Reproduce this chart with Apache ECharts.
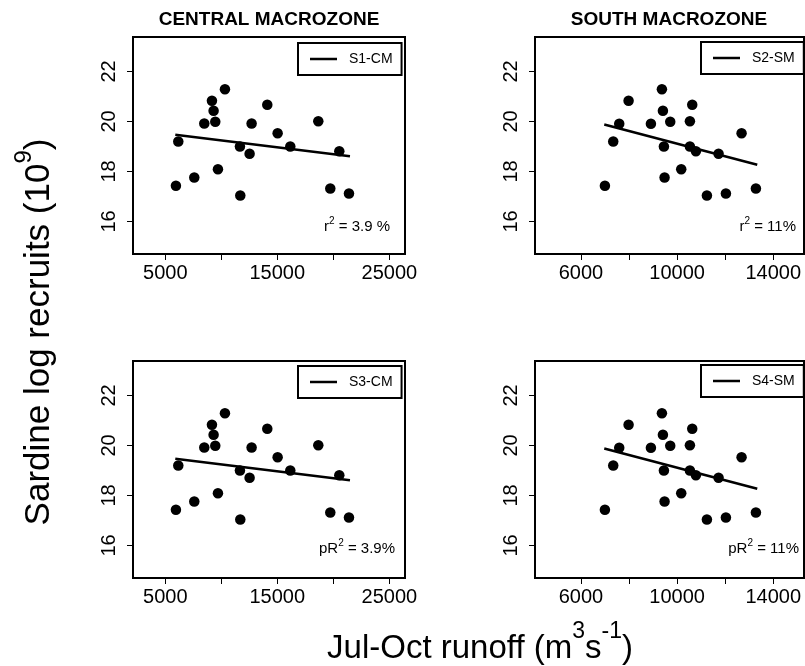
<!DOCTYPE html>
<html>
<head>
<meta charset="utf-8">
<script src="https://cdn.jsdelivr.net/npm/echarts@6/dist/echarts.min.js"></script>
<style>
  html, body { margin: 0; padding: 0; background: #fff; }
  #chart { width: 805px; height: 666px; }
</style>
</head>
<body>
<div id="chart"></div>
<script>
// ---- Data ----
var runoffCM = [5952, 6161, 7589, 8482, 9166, 9315, 9464, 9702, 10327, 11666, 11696, 12529, 12708, 14107, 15030, 16160, 18660, 19731, 20535, 21398];
var recruitsCM = [17.43, 19.2, 17.76, 19.92, 20.83, 20.43, 19.99, 18.09, 21.29, 19.0, 17.04, 18.71, 19.92, 20.67, 19.53, 19.0, 20.01, 17.32, 18.81, 17.12];
var runoffSM = [6998, 7345, 7594, 7983, 8912, 9369, 9411, 9452, 9480, 9716, 10173, 10534, 10534, 10631, 10783, 11241, 11726, 12031, 12683, 13279];
var recruitsSM = [17.43, 19.2, 19.91, 20.83, 19.91, 21.29, 20.43, 19.0, 17.76, 19.99, 18.09, 20.01, 19.0, 20.67, 18.81, 17.04, 18.71, 17.12, 19.53, 17.32];
var fitCMx = [5893, 21488], fitCMy = [19.47, 18.61];
var fitSMx = [6971, 13335], fitSMy = [19.88, 18.27];
var seriesNames = ['S1-CM', 'S2-SM', 'S3-CM', 'S4-SM'];
var panelTitles = ['CENTRAL MACROZONE', 'SOUTH MACROZONE'];
var statLabels = [['r', '2', ' = 3.9 %'], ['r', '2', ' = 11%'], ['pR', '2', ' = 3.9%'], ['pR', '2', ' = 11%']];
var xTicksCM = [5000, 10000, 15000, 20000, 25000], xLabelsCM = [5000, 15000, 25000];
var xTicksSM = [6000, 8000, 10000, 12000, 14000], xLabelsSM = [6000, 10000, 14000];
var yTicks = [16, 18, 20, 22];

// ---- Layout ----
var FONT = "'Liberation Sans', Arial, Helvetica, sans-serif";
var grids = [
  {left: 133, top: 37, width: 272, height: 217},
  {left: 535, top: 37, width: 269, height: 217},
  {left: 133, top: 361, width: 272, height: 217},
  {left: 535, top: 361, width: 269, height: 217}
];
var xRangeCM = [2120, 26400], xRangeSM = [4090, 15280], yRange = [14.7, 23.38];
var legendPos = [[298, 43], [701, 42], [298, 366], [701, 365]];
var statPos = [[390, 227], [796, 227], [395, 549], [799, 549]];

function zip(a, b) { return a.map(function (v, i) { return [v, b[i]]; }); }

var option = {
  animation: false,
  backgroundColor: '#fff',
  textStyle: {fontFamily: FONT, color: '#000'},
  grid: grids.map(function (g) {
    return Object.assign({show: true, borderColor: '#000', borderWidth: 2, backgroundColor: 'transparent'}, g);
  }),
  xAxis: [],
  yAxis: [],
  legend: [],
  series: [],
  graphic: []
};

for (var i = 0; i < 4; i++) {
  var isCM = (i % 2 === 0);
  var xr = isCM ? xRangeCM : xRangeSM;
  option.xAxis.push({
    type: 'value', gridIndex: i, min: xr[0], max: xr[1],
    axisLine: {show: false},
    splitLine: {show: false},
    axisTick: {show: true, length: 6, customValues: isCM ? xTicksCM : xTicksSM, lineStyle: {color: '#000', width: 1}},
    axisLabel: {customValues: isCM ? xLabelsCM : xLabelsSM, fontSize: 20, color: '#000', margin: 9, fontFamily: FONT,
      formatter: function (v) { return String(v); }}
  });
  option.yAxis.push({
    type: 'value', gridIndex: i, min: yRange[0], max: yRange[1],
    axisLine: {show: false},
    splitLine: {show: false},
    axisTick: {show: true, length: 6, customValues: yTicks, lineStyle: {color: '#000', width: 1}},
    axisLabel: {customValues: yTicks, fontSize: 20, color: '#000', margin: 14, rotate: 90, fontFamily: FONT,
      formatter: function (v) { return String(v); }}
  });
  option.series.push({
    type: 'scatter', name: 'pts' + i, xAxisIndex: i, yAxisIndex: i,
    data: isCM ? zip(runoffCM, recruitsCM) : zip(runoffSM, recruitsSM),
    symbol: 'circle', symbolSize: 10.5, itemStyle: {color: '#000', opacity: 1}
  });
  option.series.push({
    type: 'line', name: seriesNames[i], xAxisIndex: i, yAxisIndex: i,
    data: isCM ? zip(fitCMx, fitCMy) : zip(fitSMx, fitSMy),
    showSymbol: false, symbol: 'none', color: '#000',
    lineStyle: {color: '#000', width: 2.5}
  });
  option.legend.push({
    data: [seriesNames[i]], left: legendPos[i][0], top: legendPos[i][1],
    orient: 'horizontal', icon: 'rect', itemWidth: 27, itemHeight: 2.5,
    borderColor: '#000', borderWidth: 2, borderRadius: 0, padding: [9, 9, 9, 12],
    selectedMode: false,
    textStyle: {fontSize: 14, color: '#000', fontFamily: FONT, padding: [0, 0, 0, 7]}
  });
  var s = statLabels[i];
  option.graphic.push({
    type: 'text', x: statPos[i][0], y: statPos[i][1],
    style: {
      text: '{a|' + s[0] + '}{s|' + s[1] + '}{a|' + s[2] + '}',
      align: 'right', verticalAlign: 'middle',
      rich: {
        a: {fontSize: 15, fontFamily: FONT, fill: '#000', lineHeight: 15, verticalAlign: 'bottom'},
        s: {fontSize: 10, fontFamily: FONT, fill: '#000', lineHeight: 10, verticalAlign: 'bottom', padding: [0, 0, 8, 0]}
      }
    }
  });
}

// titles
option.graphic.push({type: 'text', x: 269, y: 20,
  style: {text: panelTitles[0], font: 'bold 19px ' + FONT, fill: '#000', align: 'center', verticalAlign: 'middle'}});
option.graphic.push({type: 'text', x: 669, y: 20,
  style: {text: panelTitles[1], font: 'bold 19px ' + FONT, fill: '#000', align: 'center', verticalAlign: 'middle'}});

// axis titles
option.graphic.push({type: 'text', x: 480, y: 649,
  style: {
    text: '{a|Jul-Oct runoff (m}{s|3}{a|s}{s|-1}{a|)}',
    align: 'center', verticalAlign: 'middle',
    rich: {
      a: {fontSize: 33, fontFamily: FONT, fill: '#000', lineHeight: 33, verticalAlign: 'bottom'},
      s: {fontSize: 23, fontFamily: FONT, fill: '#000', lineHeight: 23, verticalAlign: 'bottom', padding: [0, 0, 22, 0]}
    }
  }});
option.graphic.push({type: 'text', x: 39, y: 332, rotation: Math.PI / 2,
  style: {
    text: '{a|Sardine log recruits (10}{s|9}{a|)}',
    align: 'center', verticalAlign: 'middle',
    rich: {
      a: {fontSize: 35, fontFamily: FONT, fill: '#000', lineHeight: 35, verticalAlign: 'bottom'},
      s: {fontSize: 24, fontFamily: FONT, fill: '#000', lineHeight: 24, verticalAlign: 'bottom', padding: [0, 0, 20, 0]}
    }
  }});

var chart = echarts.init(document.getElementById('chart'), null, {renderer: 'canvas'});
chart.setOption(option);
</script>
</body>
</html>
